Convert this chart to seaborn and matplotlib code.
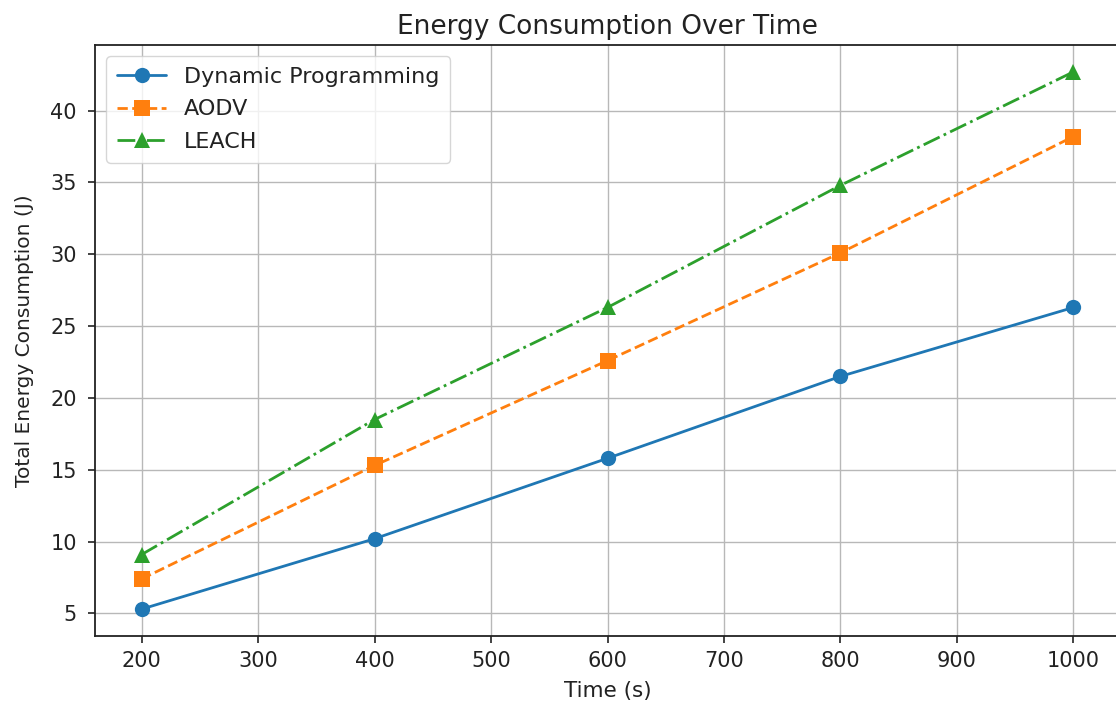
import matplotlib
matplotlib.use("Agg")
import matplotlib.pyplot as plt
import seaborn as sns
import pandas as pd

time_s = [200, 400, 600, 800, 1000]
dynamic_programming = [5.3, 10.2, 15.8, 21.5, 26.3]
aodv = [7.4, 15.3, 22.6, 30.1, 38.2]
leach = [9.1, 18.5, 26.3, 34.8, 42.7]

series_names = ["Dynamic Programming", "AODV", "LEACH"]
series_values = [dynamic_programming, aodv, leach]

sns.set_style("ticks")
plt.rcParams['font.family'] = ['DejaVu Sans']

fig = plt.figure(figsize=(11.16, 7.05), dpi=100)
ax = fig.add_axes([95/1116, 1 - 636/705, (1120 - 95)/1116, (636 - 45)/705])

colors = ["#1f77b4", "#ff7f0e", "#2ca02c"]
markers = ["o", "s", "^"]
styles = ["-", "--", "-."]

for name, vals, c, m, ls in zip(series_names, series_values, colors, markers, styles):
    df = pd.DataFrame({"Time": time_s, "Energy": vals})
    sns.lineplot(data=df, x="Time", y="Energy", ax=ax, color=c, marker=m,
                 linestyle=ls, linewidth=2.0, markersize=11, markeredgewidth=0,
                 label=name)

ax.set_xlim(160, 1040)
ax.set_ylim(3.43, 44.57)
ax.set_xticks([200, 300, 400, 500, 600, 700, 800, 900, 1000])
ax.set_yticks([5, 10, 15, 20, 25, 30, 35, 40])
ax.grid(True, color="#b8b8b8", linewidth=1.0)
ax.tick_params(labelsize=15, length=5, width=1.2, colors="#222222")
ax.tick_params(axis="y", pad=8)
ax.tick_params(axis="x", pad=6)
for s in ax.spines.values():
    s.set_linewidth(1.3)
    s.set_color("#222222")
ax.set_xlabel("Time (s)", fontsize=15.5, color="#222222", labelpad=7)
ax.set_ylabel("Total Energy Consumption (J)", fontsize=14.5, color="#222222", labelpad=12)
ax.set_title("Energy Consumption Over Time", fontsize=19, pad=8, color="#222222")
leg = ax.legend(loc="upper left", fontsize=16, frameon=True, handlelength=2.2,
                borderpad=0.5, labelspacing=0.55)
for t in leg.get_texts():
    t.set_color("#222222")

fig.savefig("out.png", dpi=100)
